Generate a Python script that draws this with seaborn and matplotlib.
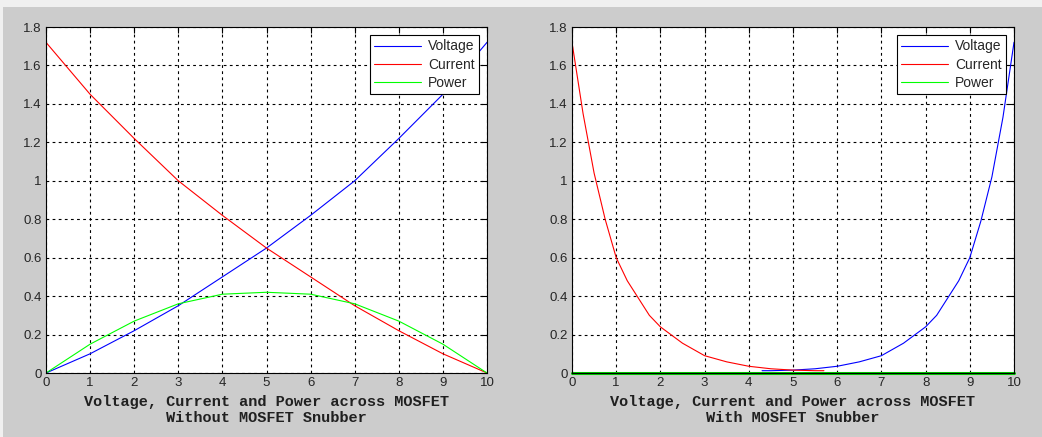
import numpy as np
import pandas as pd
import matplotlib
matplotlib.use("Agg")
import matplotlib.pyplot as plt
import seaborn as sns
from matplotlib.patches import Rectangle

sns.set_style("white")
plt.rcParams['font.family'] = ['Liberation Sans', 'DejaVu Sans']

# Without snubber
x_sem = [0, 1, 2, 3, 4, 5, 6, 7, 8, 9, 10]
tensao_sem = [0.0, 0.10, 0.22, 0.35, 0.50, 0.65, 0.82, 1.00, 1.22, 1.45, 1.72]
corrente_sem = [1.72, 1.45, 1.22, 1.00, 0.82, 0.65, 0.50, 0.35, 0.22, 0.10, 0.0]
potencia_sem = [0.0, 0.15, 0.27, 0.36, 0.41, 0.42, 0.41, 0.36, 0.27, 0.15, 0.0]

# With snubber
x_corr = [0, 0.25, 0.5, 0.75, 1, 1.25, 1.5, 1.75, 2, 2.5, 3, 3.5, 4, 4.5, 5, 5.5, 5.7]
corrente_com = [1.72, 1.35, 1.04, 0.80, 0.60, 0.48, 0.39, 0.30, 0.24, 0.155, 0.09,
                0.058, 0.035, 0.022, 0.015, 0.012, 0.012]
x_tens = [4.3, 4.5, 5, 5.5, 6, 6.5, 7, 7.5, 8, 8.25, 8.5, 8.75, 9, 9.25, 9.5, 9.75, 10]
tensao_com = [0.012, 0.012, 0.015, 0.022, 0.035, 0.058, 0.09, 0.155, 0.24, 0.30, 0.39,
              0.48, 0.60, 0.79, 1.02, 1.33, 1.72]
x_pot = [0, 10]
potencia_com = [0.0, 0.0]

xticks = list(range(0, 11))
yticks = [0, 0.2, 0.4, 0.6, 0.8, 1, 1.2, 1.4, 1.6, 1.8]
ytick_labels = ['0', '0.2', '0.4', '0.6', '0.8', '1', '1.2', '1.4', '1.6', '1.8']

W, H = 1042, 437
fig = plt.figure(figsize=(10.42, 4.37), dpi=100, facecolor='#cccccc')
# faixa clara no topo e na esquerda
fig.add_artist(Rectangle((0, 1 - 7 / H), 1, 7 / H, transform=fig.transFigure,
                         facecolor='#f0f0f0', edgecolor='none'))
fig.add_artist(Rectangle((0, 0), 3 / W, 1, transform=fig.transFigure,
                         facecolor='#f0f0f0', edgecolor='none'))

ax1 = fig.add_axes([46 / W, 1 - 373 / H, (487 - 46) / W, (373 - 27) / H])
ax2 = fig.add_axes([572 / W, 1 - 373 / H, (1014 - 572) / W, (373 - 27) / H])


def estilo(ax, titulo):
    ax.set_xlim(0, 10)
    ax.set_ylim(0, 1.8)
    ax.set_xticks(xticks)
    ax.set_yticks(yticks)
    ax.set_yticklabels(ytick_labels)
    ax.grid(True, color='black', linestyle=(0, (2.5, 3)), linewidth=0.8)
    ax.tick_params(direction='in', length=4, top=True, right=True,
                   labelsize=9.5, colors='black', labelcolor='#262626', pad=3)
    for s in ax.spines.values():
        s.set_color('black')
        s.set_linewidth(0.8)
    ax.set_xlabel(titulo, fontfamily='Liberation Mono', fontweight='bold',
                  fontsize=11, labelpad=4, linespacing=1.25, color='#202020')
    leg = ax.legend(loc='upper right', fontsize=10, frameon=True, fancybox=False,
                    framealpha=1, edgecolor='black', borderpad=0.3,
                    handlelength=3.4, handletextpad=0.5, labelspacing=0.3,
                    borderaxespad=0.6)
    leg.get_frame().set_linewidth(0.8)
    return leg


sns.lineplot(x=x_sem, y=tensao_sem, ax=ax1, color='#0000ff', lw=0.8, label='Voltage')
sns.lineplot(x=x_sem, y=corrente_sem, ax=ax1, color='#ff0000', lw=0.8, label='Current')
sns.lineplot(x=x_sem, y=potencia_sem, ax=ax1, color='#00ff00', lw=0.8, label='Power')
estilo(ax1, 'Voltage, Current and Power across MOSFET\nWithout MOSFET Snubber')

sns.lineplot(x=x_tens, y=tensao_com, ax=ax2, color='#0000ff', lw=0.8, label='Voltage')
sns.lineplot(x=x_corr, y=corrente_com, ax=ax2, color='#ff0000', lw=0.8, label='Current')
sns.lineplot(x=x_pot, y=potencia_com, ax=ax2, color='#00cc00', lw=2.2, label='Power',
             clip_on=False)
leg2 = estilo(ax2, 'Voltage, Current and Power across MOSFET\nWith MOSFET Snubber')
leg2.get_lines()[2].set_linewidth(0.8)
leg2.get_lines()[2].set_color('#00ff00')

fig.savefig('out.png', dpi=100, facecolor=fig.get_facecolor())
